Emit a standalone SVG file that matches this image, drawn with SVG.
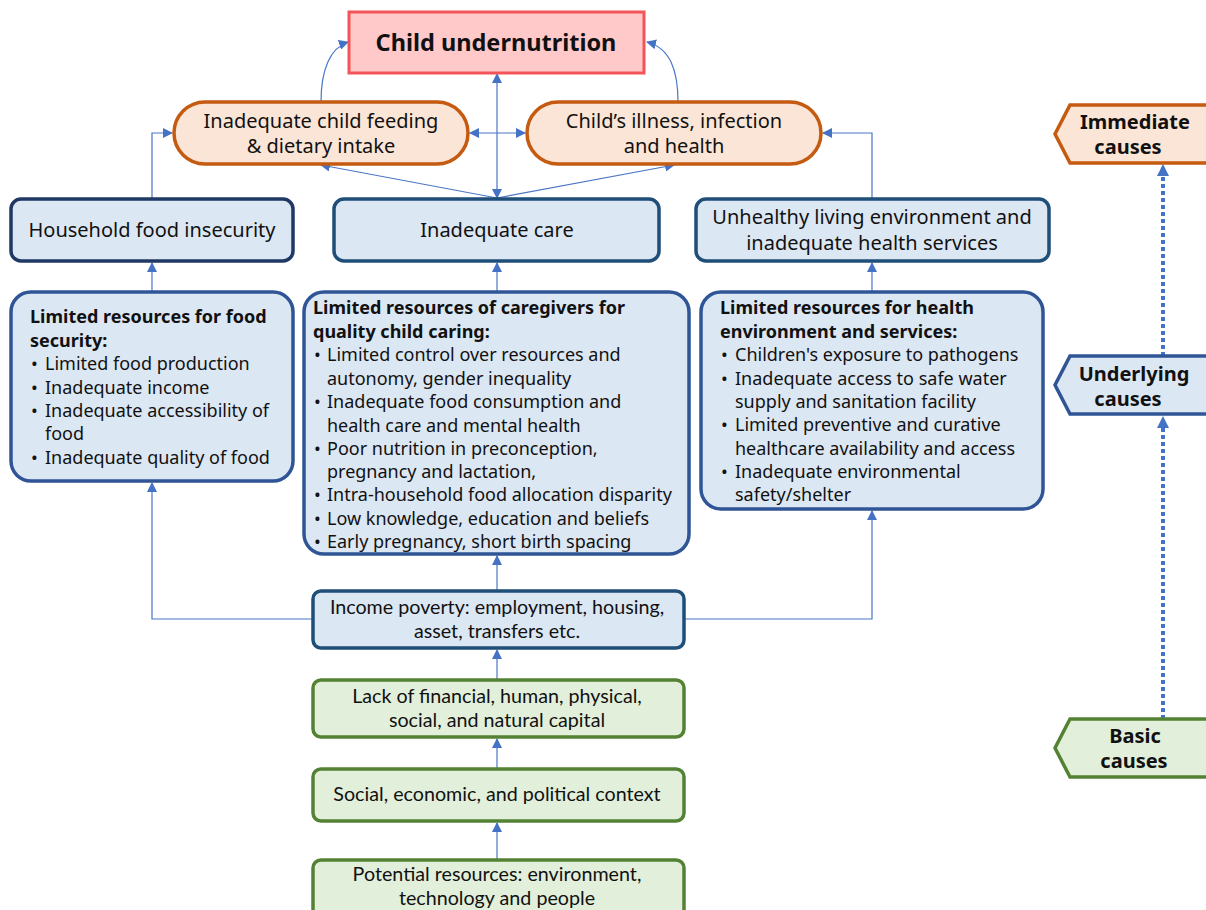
<svg xmlns="http://www.w3.org/2000/svg" width="1206" height="910" viewBox="0 0 1206 910">
<style>
text{font-family:"Noto Sans","Open Sans",sans-serif;fill:#111}
.t20{font-size:20px;text-anchor:middle}
.t18{font-size:18px}
.b{font-weight:bold}
.c{text-anchor:middle}
.bot{font-family:Lato,"Noto Sans",sans-serif;font-size:19.7px;text-anchor:middle}
.red{fill:#ffc9c9;stroke:#f25457;stroke-width:3}
.org{fill:#fbe5d6;stroke:#c55a11;stroke-width:3.5}
.blu1{fill:#dce7f4;stroke:#1f3864;stroke-width:3.5}
.blu2{fill:#dce7f4;stroke:#1f4e79;stroke-width:3.5}
.blu3{fill:#dce7f4;stroke:#2f5597;stroke-width:3.5}
.grn{fill:#e2efda;stroke:#548235;stroke-width:3.5}
.con{fill:none;stroke:#4a76c6;stroke-width:1.2}
.dot{fill:none;stroke:#4472c4;stroke-width:4;stroke-dasharray:4 3}
</style>
<defs>
<marker id="ah" viewBox="0 0 10 10" refX="9" refY="5" markerWidth="10" markerHeight="10" markerUnits="userSpaceOnUse" orient="auto-start-reverse">
<path d="M0,0 L10,5 L0,10 z" fill="#4472c4"/>
</marker>
</defs>
<rect width="1206" height="910" fill="#fff"/>

<g id="connectors">
<path class="con" d="M321,102 C321,70 330,48 348,42" marker-end="url(#ah)"/>
<path class="con" d="M678,102 C678,70 670,48 647,42" marker-end="url(#ah)"/>
<path class="con" d="M497,198 L497,74" marker-start="url(#ah)" marker-end="url(#ah)"/>
<path class="con" d="M470,133 L525,133" marker-start="url(#ah)" marker-end="url(#ah)"/>
<path class="con" d="M497,198 L321,165" marker-end="url(#ah)"/>
<path class="con" d="M497,198 L674,165" marker-end="url(#ah)"/>
<path class="con" d="M152,199 L152,133 L172,133" marker-end="url(#ah)"/>
<path class="con" d="M872,199 L872,133 L823,133" marker-end="url(#ah)"/>
<path class="con" d="M152,292 L152,263" marker-end="url(#ah)"/>
<path class="con" d="M497,292 L497,263" marker-end="url(#ah)"/>
<path class="con" d="M872,292 L872,263" marker-end="url(#ah)"/>
<path class="con" d="M313,619 L152,619 L152,483" marker-end="url(#ah)"/>
<path class="con" d="M684,619 L872,619 L872,511" marker-end="url(#ah)"/>
<path class="con" d="M497,591 L497,556" marker-end="url(#ah)"/>
<path class="con" d="M497,680 L497,650" marker-end="url(#ah)"/>
<path class="con" d="M497,769 L497,739" marker-end="url(#ah)"/>
<path class="con" d="M497,860 L497,823" marker-end="url(#ah)"/>
<path class="dot" d="M1163,356 L1163,174"/>
<path d="M1157,176 L1163,164 L1169,176 z" fill="#4472c4"/>
<path class="dot" d="M1163,719 L1163,426"/>
<path d="M1157,428 L1163,416 L1169,428 z" fill="#4472c4"/>
</g>

<g id="child-undernutrition">
<rect class="red" x="349" y="12" width="295" height="61"/>
<text class="c b" x="496" y="51" font-size="23.5">Child undernutrition</text>
</g>

<g id="feeding">
<rect class="org" x="174" y="102" width="294" height="62" rx="31"/>
<text class="t20" x="321" y="128">Inadequate child feeding</text>
<text class="t20" x="321" y="153">&amp; dietary intake</text>
</g>

<g id="illness">
<rect class="org" x="527" y="102" width="294" height="62" rx="31"/>
<text class="t20" x="674" y="128">Child’s illness, infection</text>
<text class="t20" x="674" y="153">and health</text>
</g>

<g id="household-food">
<rect class="blu1" x="11" y="199" width="282" height="62" rx="10"/>
<text class="t20" x="152" y="237">Household food insecurity</text>
</g>

<g id="inadequate-care">
<rect class="blu2" x="334" y="199" width="325" height="62" rx="10"/>
<text class="t20" x="497" y="237">Inadequate care</text>
</g>

<g id="unhealthy-env">
<rect class="blu2" x="696" y="199" width="353" height="62" rx="10"/>
<text class="t20" x="872" y="224">Unhealthy living environment and</text>
<text class="t20" x="872" y="250">inadequate health services</text>
</g>

<g id="res-food">
<rect class="blu3" x="11" y="292" width="282" height="189" rx="20"/>
<text class="t18 b" x="30" y="323">Limited resources  for food</text>
<text class="t18 b" x="30" y="347">security:</text>
<text class="t18" y="370"><tspan x="31">•</tspan><tspan x="45">Limited food  production</tspan></text>
<text class="t18" y="394"><tspan x="31">•</tspan><tspan x="45">Inadequate income</tspan></text>
<text class="t18" y="417"><tspan x="31">•</tspan><tspan x="45">Inadequate accessibility of</tspan></text>
<text class="t18" x="45" y="440">food</text>
<text class="t18" y="464"><tspan x="31">•</tspan><tspan x="45">Inadequate quality of food</tspan></text>
</g>

<g id="res-care">
<rect class="blu3" x="304" y="292" width="385" height="262" rx="20"/>
<text class="t18 b" x="313" y="314">Limited resources  of caregivers  for</text>
<text class="t18 b" x="313" y="338">quality child caring:</text>
<text class="t18" y="361"><tspan x="314">•</tspan><tspan x="327">Limited control over resources and</tspan></text>
<text class="t18" x="327" y="385">autonomy, gender inequality</text>
<text class="t18" y="408"><tspan x="314">•</tspan><tspan x="327">Inadequate food  consumption and</tspan></text>
<text class="t18" x="327" y="432">health care and mental health</text>
<text class="t18" y="455"><tspan x="314">•</tspan><tspan x="327">Poor nutrition in preconception,</tspan></text>
<text class="t18" x="327" y="478">pregnancy and lactation,</text>
<text class="t18" y="501"><tspan x="314">•</tspan><tspan x="327">Intra-household food  allocation disparity</tspan></text>
<text class="t18" y="525"><tspan x="314">•</tspan><tspan x="327">Low knowledge, education and beliefs</tspan></text>
<text class="t18" y="548"><tspan x="314">•</tspan><tspan x="327">Early pregnancy, short birth spacing</tspan></text>
</g>

<g id="res-health">
<rect class="blu3" x="701" y="292" width="342" height="217" rx="20"/>
<text class="t18 b" x="720" y="314">Limited resources  for health</text>
<text class="t18 b" x="720" y="338">environment and services:</text>
<text class="t18" y="361"><tspan x="721">•</tspan><tspan x="735">Children's exposure to pathogens</tspan></text>
<text class="t18" y="385"><tspan x="721">•</tspan><tspan x="735">Inadequate access to safe water</tspan></text>
<text class="t18" x="735" y="408">supply and sanitation facility</text>
<text class="t18" y="431"><tspan x="721">•</tspan><tspan x="735">Limited preventive and curative</tspan></text>
<text class="t18" x="735" y="455">healthcare availability and access</text>
<text class="t18" y="478"><tspan x="721">•</tspan><tspan x="735">Inadequate environmental</tspan></text>
<text class="t18" x="735" y="501">safety/shelter</text>
</g>

<g id="income-poverty">
<rect class="blu2" x="313" y="591" width="371" height="57" rx="8"/>
<text class="bot" x="497" y="614">Income poverty: employment, housing,</text>
<text class="bot" x="497" y="638">asset, transfers etc.</text>
</g>

<g id="lack-capital">
<rect class="grn" x="313" y="680" width="371" height="57" rx="8"/>
<text class="bot" x="497" y="703">Lack of financial, human, physical,</text>
<text class="bot" x="497" y="727">social, and natural capital</text>
</g>

<g id="context">
<rect class="grn" x="313" y="769" width="371" height="52" rx="8"/>
<text class="bot" x="497" y="801">Social, economic, and political context</text>
</g>

<g id="potential">
<rect class="grn" x="313" y="860" width="371" height="60" rx="8"/>
<text class="bot" x="497" y="881">Potential resources: environment,</text>
<text class="bot" x="497" y="905">technology and people</text>
</g>

<g id="immediate">
<path class="org" d="M1070,105 L1210,105 L1210,163 L1070,163 L1055,134 z"/>
<text class="c b" x="1135" y="129" font-size="20">Immediate</text>
<text class="c b" x="1128" y="154" font-size="20">causes</text>
</g>

<g id="underlying">
<path class="blu3" d="M1070,356 L1210,356 L1210,414 L1070,414 L1055,385 z"/>
<text class="c b" x="1134" y="381" font-size="20">Underlying</text>
<text class="c b" x="1128" y="406" font-size="20">causes</text>
</g>

<g id="basic">
<path class="grn" d="M1070,719 L1210,719 L1210,777 L1070,777 L1055,748 z"/>
<text class="c b" x="1135" y="743" font-size="20">Basic</text>
<text class="c b" x="1134" y="768" font-size="20">causes</text>
</g>
</svg>
